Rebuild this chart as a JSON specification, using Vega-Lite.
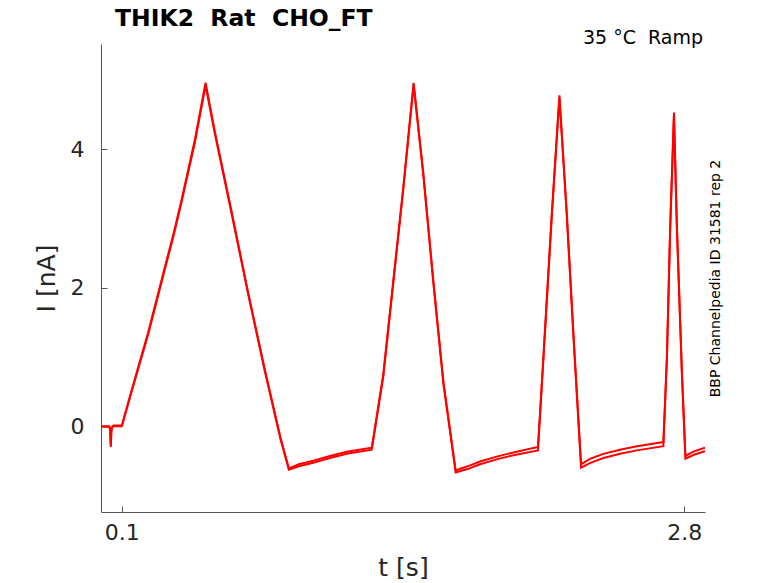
{
  "$schema": "https://vega.github.io/schema/vega-lite/v6.json",
  "width": 604,
  "height": 468,
  "autosize": {"type": "none"},
  "padding": {"left": 101, "top": 44, "right": 73, "bottom": 71},
  "background": "white",
  "title": {
    "text": "THIK2\u00a0\u00a0Rat\u00a0\u00a0CHO_FT",
    "anchor": "start",
    "frame": "group",
    "dx": 14,
    "dy": 24,
    "offset": 4,
    "baseline": "alphabetic",
    "font": "DejaVu Sans",
    "fontSize": 23.5,
    "fontWeight": "bold",
    "color": "black"
  },
  "config": {
    "view": {"stroke": null},
    "axis": {
      "font": "DejaVu Sans",
      "labelFont": "DejaVu Sans",
      "titleFont": "DejaVu Sans",
      "grid": false,
      "domainColor": "#555555",
      "tickColor": "#555555",
      "labelColor": "#262626",
      "titleColor": "#262626",
      "labelFontSize": 22,
      "titleFontSize": 25,
      "titleFontWeight": "normal",
      "tickSize": -6
    }
  },
  "data": {
    "values": [
      {"sweep": "a", "t": 0.0, "I": 0.0},
      {"sweep": "a", "t": 0.04, "I": 0.0},
      {"sweep": "a", "t": 0.044, "I": -0.05},
      {"sweep": "a", "t": 0.047, "I": -0.3},
      {"sweep": "a", "t": 0.05, "I": -0.05},
      {"sweep": "a", "t": 0.055, "I": 0.0},
      {"sweep": "a", "t": 0.06, "I": 0.01},
      {"sweep": "a", "t": 0.1, "I": 0.01},
      {"sweep": "a", "t": 0.15, "I": 0.55},
      {"sweep": "a", "t": 0.226, "I": 1.35},
      {"sweep": "a", "t": 0.3, "I": 2.22},
      {"sweep": "a", "t": 0.35, "I": 2.8},
      {"sweep": "a", "t": 0.387, "I": 3.27},
      {"sweep": "a", "t": 0.451, "I": 4.14},
      {"sweep": "a", "t": 0.502, "I": 4.96},
      {"sweep": "a", "t": 0.547, "I": 4.25},
      {"sweep": "a", "t": 0.627, "I": 3.1},
      {"sweep": "a", "t": 0.707, "I": 1.92},
      {"sweep": "a", "t": 0.787, "I": 0.81},
      {"sweep": "a", "t": 0.862, "I": -0.17},
      {"sweep": "a", "t": 0.902, "I": -0.61},
      {"sweep": "a", "t": 0.95, "I": -0.55},
      {"sweep": "a", "t": 1.019, "I": -0.5},
      {"sweep": "a", "t": 1.099, "I": -0.43},
      {"sweep": "a", "t": 1.18, "I": -0.37},
      {"sweep": "a", "t": 1.3, "I": -0.31},
      {"sweep": "a", "t": 1.355, "I": 0.74},
      {"sweep": "a", "t": 1.403, "I": 2.09},
      {"sweep": "a", "t": 1.451, "I": 3.44},
      {"sweep": "a", "t": 1.501, "I": 4.96},
      {"sweep": "a", "t": 1.548, "I": 3.64},
      {"sweep": "a", "t": 1.596, "I": 2.09},
      {"sweep": "a", "t": 1.644, "I": 0.64},
      {"sweep": "a", "t": 1.703, "I": -0.64},
      {"sweep": "a", "t": 1.76, "I": -0.58},
      {"sweep": "a", "t": 1.82, "I": -0.51},
      {"sweep": "a", "t": 1.9, "I": -0.44},
      {"sweep": "a", "t": 1.98, "I": -0.38},
      {"sweep": "a", "t": 2.098, "I": -0.3},
      {"sweep": "a", "t": 2.124, "I": 1.0},
      {"sweep": "a", "t": 2.164, "I": 3.05},
      {"sweep": "a", "t": 2.201, "I": 4.78},
      {"sweep": "a", "t": 2.236, "I": 3.1},
      {"sweep": "a", "t": 2.268, "I": 1.35},
      {"sweep": "a", "t": 2.305, "I": -0.55},
      {"sweep": "a", "t": 2.35, "I": -0.47},
      {"sweep": "a", "t": 2.412, "I": -0.4},
      {"sweep": "a", "t": 2.492, "I": -0.34},
      {"sweep": "a", "t": 2.573, "I": -0.29},
      {"sweep": "a", "t": 2.7, "I": -0.23},
      {"sweep": "a", "t": 2.717, "I": 1.0},
      {"sweep": "a", "t": 2.733, "I": 2.9},
      {"sweep": "a", "t": 2.751, "I": 4.53},
      {"sweep": "a", "t": 2.765, "I": 2.9},
      {"sweep": "a", "t": 2.789, "I": 0.8},
      {"sweep": "a", "t": 2.806, "I": -0.43},
      {"sweep": "a", "t": 2.85, "I": -0.36},
      {"sweep": "a", "t": 2.9, "I": -0.31},
      {"sweep": "b", "t": 0.0, "I": -0.01},
      {"sweep": "b", "t": 0.04, "I": -0.01},
      {"sweep": "b", "t": 0.044, "I": -0.06},
      {"sweep": "b", "t": 0.047, "I": -0.28},
      {"sweep": "b", "t": 0.05, "I": -0.06},
      {"sweep": "b", "t": 0.055, "I": -0.01},
      {"sweep": "b", "t": 0.06, "I": 0.0},
      {"sweep": "b", "t": 0.1, "I": 0.0},
      {"sweep": "b", "t": 0.15, "I": 0.53},
      {"sweep": "b", "t": 0.226, "I": 1.32},
      {"sweep": "b", "t": 0.3, "I": 2.19},
      {"sweep": "b", "t": 0.35, "I": 2.77},
      {"sweep": "b", "t": 0.387, "I": 3.24},
      {"sweep": "b", "t": 0.451, "I": 4.1},
      {"sweep": "b", "t": 0.502, "I": 4.92},
      {"sweep": "b", "t": 0.547, "I": 4.22},
      {"sweep": "b", "t": 0.627, "I": 3.07},
      {"sweep": "b", "t": 0.707, "I": 1.9},
      {"sweep": "b", "t": 0.787, "I": 0.79},
      {"sweep": "b", "t": 0.862, "I": -0.19},
      {"sweep": "b", "t": 0.902, "I": -0.63},
      {"sweep": "b", "t": 0.95, "I": -0.58},
      {"sweep": "b", "t": 1.019, "I": -0.53},
      {"sweep": "b", "t": 1.099, "I": -0.46},
      {"sweep": "b", "t": 1.18, "I": -0.4},
      {"sweep": "b", "t": 1.3, "I": -0.34},
      {"sweep": "b", "t": 1.355, "I": 0.71},
      {"sweep": "b", "t": 1.403, "I": 2.06},
      {"sweep": "b", "t": 1.451, "I": 3.41},
      {"sweep": "b", "t": 1.501, "I": 4.93},
      {"sweep": "b", "t": 1.548, "I": 3.61},
      {"sweep": "b", "t": 1.596, "I": 2.06},
      {"sweep": "b", "t": 1.644, "I": 0.61},
      {"sweep": "b", "t": 1.703, "I": -0.67},
      {"sweep": "b", "t": 1.76, "I": -0.62},
      {"sweep": "b", "t": 1.82, "I": -0.55},
      {"sweep": "b", "t": 1.9, "I": -0.48},
      {"sweep": "b", "t": 1.98, "I": -0.42},
      {"sweep": "b", "t": 2.098, "I": -0.35},
      {"sweep": "b", "t": 2.124, "I": 0.96},
      {"sweep": "b", "t": 2.164, "I": 3.01},
      {"sweep": "b", "t": 2.201, "I": 4.74},
      {"sweep": "b", "t": 2.236, "I": 3.06},
      {"sweep": "b", "t": 2.268, "I": 1.31},
      {"sweep": "b", "t": 2.305, "I": -0.6},
      {"sweep": "b", "t": 2.35, "I": -0.53},
      {"sweep": "b", "t": 2.412, "I": -0.46},
      {"sweep": "b", "t": 2.492, "I": -0.4},
      {"sweep": "b", "t": 2.573, "I": -0.35},
      {"sweep": "b", "t": 2.7, "I": -0.29},
      {"sweep": "b", "t": 2.717, "I": 0.96},
      {"sweep": "b", "t": 2.733, "I": 2.86},
      {"sweep": "b", "t": 2.751, "I": 4.48},
      {"sweep": "b", "t": 2.765, "I": 2.86},
      {"sweep": "b", "t": 2.789, "I": 0.76},
      {"sweep": "b", "t": 2.806, "I": -0.47},
      {"sweep": "b", "t": 2.85, "I": -0.41},
      {"sweep": "b", "t": 2.9, "I": -0.36}
    ]
  },
  "layer": [
    {
      "mark": {"type": "line", "color": "#ff0000", "strokeWidth": 2, "clip": true},
      "encoding": {
        "x": {
          "field": "t",
          "type": "quantitative",
          "scale": {"domain": [0, 2.9], "nice": false, "zero": false},
          "axis": {"values": [0.1, 2.8], "title": "t [s]", "labelPadding": 16, "titlePadding": 12, "labelFlush": false}
        },
        "y": {
          "field": "I",
          "type": "quantitative",
          "scale": {"domain": [-1.24, 5.52], "nice": false, "zero": false},
          "axis": {"values": [0, 2, 4], "title": "I [nA]", "labelPadding": 23, "titlePadding": 11}
        },
        "detail": {"field": "sweep"}
      }
    },
    {
      "data": {"values": [{"note": "35\u00a0°C\u00a0\u00a0Ramp"}]},
      "mark": {
        "type": "text",
        "align": "right",
        "baseline": "alphabetic",
        "font": "DejaVu Sans",
        "fontSize": 19,
        "color": "black",
        "dx": -2
      },
      "encoding": {
        "text": {"field": "note"},
        "x": {"datum": 2.9, "type": "quantitative"},
        "y": {
          "datum": 5.52,
          "type": "quantitative",
          "axis": {
            "orient": "right",
            "title": "BBP Channelpedia ID 31581 rep 2",
            "titleFontSize": 14,
            "titleColor": "black",
            "titleAngle": 270,
            "titlePadding": 17,
            "labels": false,
            "ticks": false,
            "domain": false
          }
        }
      }
    }
  ],
  "resolve": {"axis": {"y": "independent"}}
}
